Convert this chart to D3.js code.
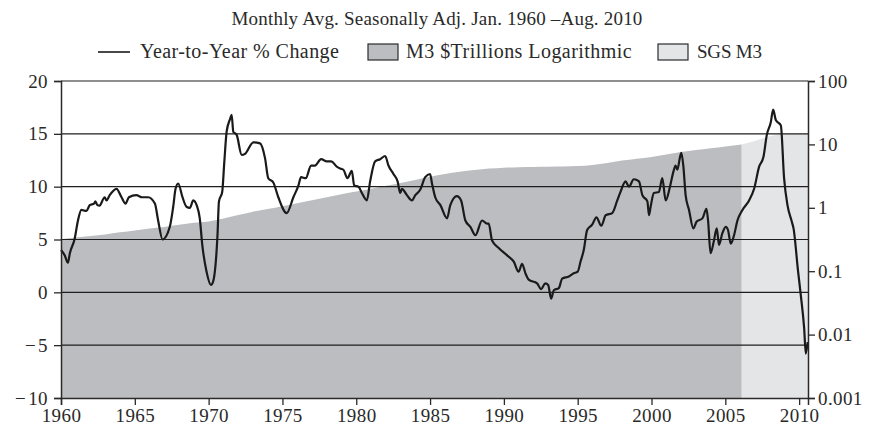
<!DOCTYPE html>
<html>
<head>
<meta charset="utf-8">
<script src="https://cdn.jsdelivr.net/npm/d3@7"></script>
<style>
  html, body { margin: 0; padding: 0; background: #fff; }
  svg { display: block; }
  text { font-family: "Liberation Serif", "DejaVu Serif", serif; fill: #2a2a2a; }
</style>
</head>
<body>
<svg id="chart" width="869" height="430"></svg>
<script>
// ---- Data ----
const titleText = "Monthly Avg. Seasonally Adj.  Jan. 1960 \u2013Aug. 2010";
const legendLabels = ["Year-to-Year % Change", "M3 $Trillions Logarithmic", "SGS M3"];

const yoyYears = [1960.00,1960.25,1960.47,1960.60,1960.93,1961.15,1961.38,1961.72,1961.95,1962.24,1962.33,1962.47,1962.60,1962.96,1963.08,1963.30,1963.76,1964.10,1964.37,1964.60,1965.10,1965.50,1965.90,1966.36,1966.58,1966.88,1967.37,1967.60,1967.76,1967.94,1968.23,1968.50,1968.73,1968.96,1969.20,1969.40,1969.57,1969.86,1970.16,1970.30,1970.60,1970.70,1970.92,1971.06,1971.22,1971.45,1971.56,1971.67,1971.90,1972.24,1972.46,1973.03,1973.48,1973.82,1974.04,1974.38,1974.72,1975.29,1975.74,1976.08,1976.26,1976.58,1976.94,1977.20,1977.62,1978.00,1978.30,1978.68,1978.95,1979.13,1979.40,1979.70,1979.86,1980.15,1980.38,1980.72,1980.94,1981.28,1981.62,1981.96,1982.18,1982.52,1982.80,1982.98,1983.09,1983.43,1983.77,1984.00,1984.33,1984.67,1985.00,1985.13,1985.35,1985.70,1986.15,1986.37,1986.82,1987.10,1987.39,1987.73,1988.07,1988.52,1988.86,1988.97,1989.20,1989.65,1990.22,1990.67,1991.00,1991.23,1991.46,1991.68,1992.25,1992.52,1992.80,1993.00,1993.20,1993.38,1993.72,1993.95,1994.40,1994.73,1995.00,1995.19,1995.41,1995.64,1995.98,1996.27,1996.60,1996.90,1997.34,1997.68,1997.90,1998.24,1998.47,1998.80,1999.15,1999.38,1999.72,1999.83,1999.94,2000.16,2000.50,2000.73,2000.96,2001.25,2001.48,2001.63,2001.75,2001.93,2002.02,2002.16,2002.31,2002.54,2002.83,2003.06,2003.45,2003.72,2003.83,2004.00,2004.23,2004.42,2004.57,2004.80,2005.03,2005.18,2005.37,2005.59,2005.82,2006.16,2006.61,2006.95,2007.29,2007.58,2007.81,2008.08,2008.24,2008.42,2008.76,2008.98,2009.21,2009.50,2009.62,2009.93,2010.11,2010.34,2010.45,2010.58];
const yoyValues = [4.0,3.5,2.8,3.7,5.1,6.8,7.8,7.7,8.25,8.4,8.6,8.25,8.2,9.0,8.7,9.2,9.8,9.0,8.4,9.0,9.2,9.0,9.0,8.4,6.8,5.0,6.2,8.1,9.8,10.3,9.0,8.1,8.0,8.7,8.2,7.0,4.5,1.95,0.7,1.0,5.4,8.6,9.5,12.3,15.2,16.4,16.8,15.2,14.9,13.0,13.1,14.2,14.1,12.7,10.8,10.4,9.0,7.5,9.0,10.1,10.9,10.8,12.0,12.0,12.6,12.4,12.4,11.9,11.7,11.6,10.8,11.5,10.1,10.0,9.4,8.7,10.5,12.4,12.6,12.9,12.0,11.2,10.5,9.4,9.8,9.2,8.7,9.2,9.7,10.9,11.2,10.3,9.0,8.25,7.0,8.25,9.1,8.7,6.8,6.2,5.4,6.8,6.5,6.5,4.9,4.2,3.5,2.9,1.95,2.7,1.8,1.2,0.85,0.3,0.85,0.7,-0.6,0.2,0.4,1.3,1.5,1.8,1.95,2.9,4.0,5.9,6.4,7.1,6.3,7.3,7.5,8.7,9.5,10.5,10.0,10.7,10.5,9.2,8.6,7.3,8.1,9.4,9.5,10.8,8.7,10.0,11.4,12.0,11.6,12.8,13.2,11.9,9.2,7.8,6.05,6.7,7.0,7.9,6.8,3.7,4.9,6.05,4.5,5.6,6.2,5.9,4.6,5.4,6.8,7.8,8.7,9.8,11.9,12.8,14.9,16.1,17.3,16.3,15.8,10.8,8.25,6.7,6.05,1.95,-0.25,-3.4,-5.8,-4.7];

const m3Years = [1960,1961,1962,1963,1964,1965,1966,1967,1968,1969,1970,1971,1972,1973,1974,1975,1976,1977,1978,1979,1980,1981,1982,1983,1984,1985,1986,1987,1988,1989,1990,1991,1992,1993,1994,1995,1996,1997,1998,1999,2000,2001,2002,2003,2004,2005,2006.1];
const m3Values = [0.32,0.34,0.36,0.38,0.41,0.44,0.47,0.50,0.54,0.58,0.61,0.68,0.77,0.87,0.96,1.06,1.18,1.32,1.47,1.63,1.80,2.00,2.23,2.47,2.75,3.10,3.40,3.70,3.95,4.15,4.30,4.38,4.42,4.45,4.47,4.55,4.75,5.10,5.55,5.95,6.35,6.95,7.60,8.15,8.70,9.30,10.0];

const sgsYears = [2006.1,2006.5,2007.0,2007.5,2008.0,2008.5,2009.0,2009.5,2010.0,2010.6];
const sgsValues = [10.0,10.5,11.3,12.4,13.4,14.2,14.6,14.7,14.7,14.7];

const leftTicks = [-10,-5,0,5,10,15,20];
const rightTicks = [0.001,0.01,0.1,1,10,100];
const rightTickLabels = ["0.001","0.01","0.1","1","10","100"];
const xTicks = [1960,1965,1970,1975,1980,1985,1990,1995,2000,2005,2010];

// ---- Layout ----
const W = 869, H = 430;
const m = {left: 61, right: 61, top: 81, bottom: 32};
const svg = d3.select("#chart");

const x = d3.scaleLinear().domain([1960, 2010.6]).range([m.left, W - m.right]);
const yL = d3.scaleLinear().domain([-10, 20]).range([H - m.bottom, m.top]);
const yR = d3.scaleLog().domain([0.001, 100]).range([H - m.bottom, m.top]);

const m3Data = m3Years.map((yr, i) => ({yr, v: m3Values[i]}));
const sgsData = sgsYears.map((yr, i) => ({yr, v: sgsValues[i]}));
const yoyData = yoyYears.map((yr, i) => ({yr, v: yoyValues[i]}));

const areaGen = d3.area()
  .x(d => x(d.yr))
  .y0(yR(0.001))
  .y1(d => yR(d.v))
  .curve(d3.curveMonotoneX);

svg.append("path").datum(sgsData).attr("d", areaGen).attr("fill", "#e4e5e7");
svg.append("path").datum(m3Data).attr("d", areaGen).attr("fill", "#bcbdc0");

// Gridlines
svg.append("g").selectAll("line").data(leftTicks.filter(t => t > -10)).join("line")
  .attr("x1", x(1960)).attr("x2", W - m.right)
  .attr("y1", d => yL(d)).attr("y2", d => yL(d))
  .attr("stroke", "#1e1e1e").attr("stroke-width", 1.1);

// Line
const lineGen = d3.line().x(d => x(d.yr)).y(d => yL(d.v)).curve(d3.curveMonotoneX);
svg.append("path").datum(yoyData).attr("d", lineGen)
  .attr("fill", "none").attr("stroke", "#1a1a1a").attr("stroke-width", 2.2)
  .attr("stroke-linejoin", "round");

// Axes
const gL = svg.append("g").attr("transform", `translate(${m.left},0)`)
  .call(d3.axisLeft(yL).tickValues(leftTicks).tickSizeOuter(0).tickSize(7).tickPadding(6)
    .tickFormat(d => d < 0 ? "\u2212\u200A" + Math.abs(d) : String(d)));
const gR = svg.append("g").attr("transform", `translate(${W - m.right},0)`)
  .call(d3.axisRight(yR).tickValues(rightTicks).tickSizeOuter(0).tickSize(7).tickPadding(3)
    .tickFormat((d, i) => rightTickLabels[i]));
const gB = svg.append("g").attr("transform", `translate(0,${H - m.bottom})`)
  .call(d3.axisBottom(x).tickValues(xTicks).tickSizeOuter(0).tickSize(7).tickPadding(4)
    .tickFormat(d3.format("d")));
[gL, gR, gB].forEach(g => {
  g.selectAll(".domain").attr("stroke", "#2a2a2a").attr("stroke-width", 1.5);
  g.selectAll(".tick line").attr("stroke", "#2a2a2a").attr("stroke-width", 1.3);
  g.selectAll("text").attr("font-size", "19px").attr("letter-spacing", "0.4px")
    .attr("font-family", "Liberation Serif").attr("fill", "#2a2a2a");
});

// Title
svg.append("text").attr("x", 437).attr("y", 25).attr("text-anchor", "middle")
  .attr("font-size", "19px").attr("letter-spacing", "0.2px").text(titleText);

// Legend
const ly = 52;
const lfs = "20px", lls = "0.45px";
const lg = svg.append("g");
lg.append("line").attr("x1", 98).attr("x2", 130).attr("y1", ly).attr("y2", ly)
  .attr("stroke", "#1a1a1a").attr("stroke-width", 1.6);
lg.append("text").attr("x", 140).attr("y", ly + 6).attr("font-size", lfs).attr("letter-spacing", lls).text(legendLabels[0]);
lg.append("rect").attr("x", 368).attr("y", ly - 8).attr("width", 30).attr("height", 16)
  .attr("fill", "#bcbdc0").attr("stroke", "#2a2a2a").attr("stroke-width", 1.2);
lg.append("text").attr("x", 406).attr("y", ly + 6).attr("font-size", lfs).attr("letter-spacing", lls).text(legendLabels[1]);
lg.append("rect").attr("x", 658).attr("y", ly - 8).attr("width", 30).attr("height", 16)
  .attr("fill", "#e4e5e7").attr("stroke", "#2a2a2a").attr("stroke-width", 1.2);
lg.append("text").attr("x", 697).attr("y", ly + 6).attr("font-size", "19px").attr("letter-spacing", "-0.2px").text(legendLabels[2]);
</script>
</body>
</html>
